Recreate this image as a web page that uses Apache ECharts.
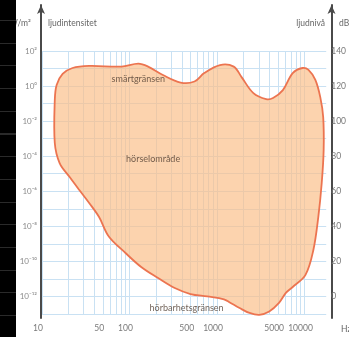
<!DOCTYPE html>
<html><head><meta charset="utf-8">
<script src="https://cdn.jsdelivr.net/npm/echarts@6/dist/echarts.min.js"></script>
<style>
html,body{margin:0;padding:0;background:#fff;}
#c{position:absolute;left:0;top:0;width:349px;height:337px;}
#strip{position:absolute;left:0;top:0;width:16px;height:337px;background-color:#000;
background-image:repeating-linear-gradient(to bottom, transparent 0px, transparent 20px, #2a2a2a 20px, #2a2a2a 21px, transparent 21px, transparent 22.7px);}
</style></head>
<body><div id="c"></div><div id="strip"></div>
<script>
// Frequency axis (Hz)
const FREQ_MIN = 10;
const FREQ_MAX = 17700;
const FREQ_LABELS = [10, 50, 100, 500, 1000, 5000, 10000];
const FREQ_GRID = [10,20,30,40,50,60,70,80,90,100,200,300,400,500,600,700,800,900,1000,2000,3000,4000,5000,6000,7000,8000,9000,10000];
// Level axis (dB), intensity I = 10^(dB/10 - 12) W/m2
const DB_MIN = -10;
const DB_MAX = 140;
const DB_GRID = [-10,0,10,20,30,40,50,60,70,80,90,100,110,120,130,140];
const DB_LABELS = [0,20,40,60,80,100,120,140];

// Outline of the hearing area (closed): pain threshold on top, hearing threshold below
const OUTLINE_FREQ = [14.0,14.7,17.2,22.3,34.6,81,126,163,241,384,552,714,1081,1553,1909,2606,3648,4368,5659,7331,9500,11100,13300,15140,16350,16550,15730,14370,12620,10260,7330,6120,5110,3950,3040,2350,1812,1400,1200,773,498,329,212,136,90,58,44.9,34.6,26.7,20.7,15.9,14.0];
const OUTLINE_DB = [112,120.6,126.9,130.3,131.5,131.1,132.8,131.1,126.3,122,122.6,127.4,132,131.1,125.1,116,112.6,113.2,117.7,127.4,130.3,129.2,123.5,113.7,102.3,83.5,64.7,45.3,26.5,12.3,5.4,2.0,-3.7,-8.6,-10.5,-9.4,-6.6,-3.4,-1.6,0,1.4,4.8,10.5,16.8,24.8,34.2,45.3,53.3,60.7,68.1,76.1,87.5];

// Region annotations
const NOTE_TEXT = ['smärtgränsen','hörselområde','hörbarhetsgränsen'];
const NOTE_FREQ = [126, 186, 449];
const NOTE_DB = [124, 78.4, -6.6];

const SUP = {'-':'\u207B','0':'\u2070','1':'\u00B9','2':'\u00B2','3':'\u00B3','4':'\u2074','5':'\u2075','6':'\u2076','7':'\u2077','8':'\u2078','9':'\u2079'};
function supStr(n){return String(n).split('').map(c=>SUP[c]).join('');}
const lg = v => Math.log10(v);

const FONT = 'Lato, "Open Sans", sans-serif';
const chart = echarts.init(document.getElementById('c'), null, {renderer:'canvas'});

const option = {
  animation:false,
  backgroundColor:'#ffffff',
  grid:[
    {left:42, top:51, width:289, height:263},
    {left:41, top:5, width:290.5, height:313}
  ],
  xAxis:[
    {gridIndex:0, type:'value', min:lg(FREQ_MIN), max:lg(FREQ_MAX),
     axisLine:{show:false},
     axisTick:{show:false, customValues:FREQ_GRID.map(lg)},
     splitLine:{show:true, lineStyle:{color:'#c9e1f3', width:1}},
     axisLabel:{show:true, customValues:FREQ_LABELS.map(lg), margin:10, padding:[0,8,0,0],
       color:'#7a7a7a', fontSize:8.5, fontFamily:FONT,
       formatter:v=>String(Math.round(Math.pow(10,v)))}},
    {gridIndex:1, type:'value', min:0, max:1, show:false}
  ],
  yAxis:[
    {gridIndex:0, type:'value', position:'left', min:DB_MIN, max:DB_MAX,
     axisLine:{show:false},
     axisTick:{show:false, customValues:DB_GRID},
     splitLine:{show:true, lineStyle:{color:'#c9e1f3', width:1}},
     axisLabel:{show:true, customValues:DB_LABELS, margin:5, color:'#8a8a8a', fontSize:8, fontFamily:FONT,
       formatter:v=>'10'+supStr(Math.round(v/10-12))}},
    {gridIndex:0, type:'value', position:'right', min:DB_MIN, max:DB_MAX,
     axisLine:{show:false},
     axisTick:{show:false, customValues:DB_GRID},
     splitLine:{show:false},
     axisLabel:{show:true, customValues:DB_LABELS, margin:5, color:'#7a7a7a', fontSize:8.5, fontFamily:FONT,
       formatter:v=>String(Math.round(v))}},
    {gridIndex:1, type:'value', position:'left', min:0, max:1,
     axisLine:{show:true, symbol:['none','arrow'], symbolSize:[6,9], lineStyle:{color:'#4a4a4a', width:2}},
     axisTick:{show:false}, axisLabel:{show:false}, splitLine:{show:false}},
    {gridIndex:1, type:'value', position:'right', min:0, max:1,
     axisLine:{show:true, symbol:['none','arrow'], symbolSize:[6,9], lineStyle:{color:'#4a4a4a', width:2}},
     axisTick:{show:false}, axisLabel:{show:false}, splitLine:{show:false}}
  ],
  graphic:[
    {type:'text', left:48, top:19, style:{text:'ljudintensitet', fill:'#666', fontSize:8.5, fontFamily:FONT}},
    {type:'text', left:9, top:19, style:{text:'W/m\u00B2', fill:'#666', fontSize:8.5, fontFamily:FONT}},
    {type:'text', right:349-325, top:19, style:{text:'ljudnivå', fill:'#666', fontSize:8.5, fontFamily:FONT}},
    {type:'text', left:339, top:19, style:{text:'dB', fill:'#666', fontSize:8.5, fontFamily:FONT}},
    {type:'text', left:341, top:325, style:{text:'Hz', fill:'#666', fontSize:8.5, fontFamily:FONT}}
  ],
  series:[
    {type:'custom', xAxisIndex:0, yAxisIndex:0, clip:false, silent:true, z:2,
     data:[[2,60]],
     renderItem:function(params, api){
       const pts = OUTLINE_FREQ.map((f,i)=>api.coord([lg(f), OUTLINE_DB[i]]));
       return {type:'polygon', shape:{points:pts, smooth:0.35},
         style:{fill:'rgba(251,190,135,0.68)', stroke:'#ec7450', lineWidth:1.8}};
     }},
    {type:'scatter', xAxisIndex:0, yAxisIndex:0, silent:true, z:5,
     symbolSize:1, itemStyle:{color:'rgba(0,0,0,0)'},
     data:NOTE_TEXT.map((t,i)=>({name:t, value:[lg(NOTE_FREQ[i]), NOTE_DB[i]]})),
     label:{show:true, position:'inside', formatter:p=>p.name, color:'#4e3c30', fontSize:9, fontFamily:FONT}}
  ]
};
chart.setOption(option);
</script>
</body></html>
